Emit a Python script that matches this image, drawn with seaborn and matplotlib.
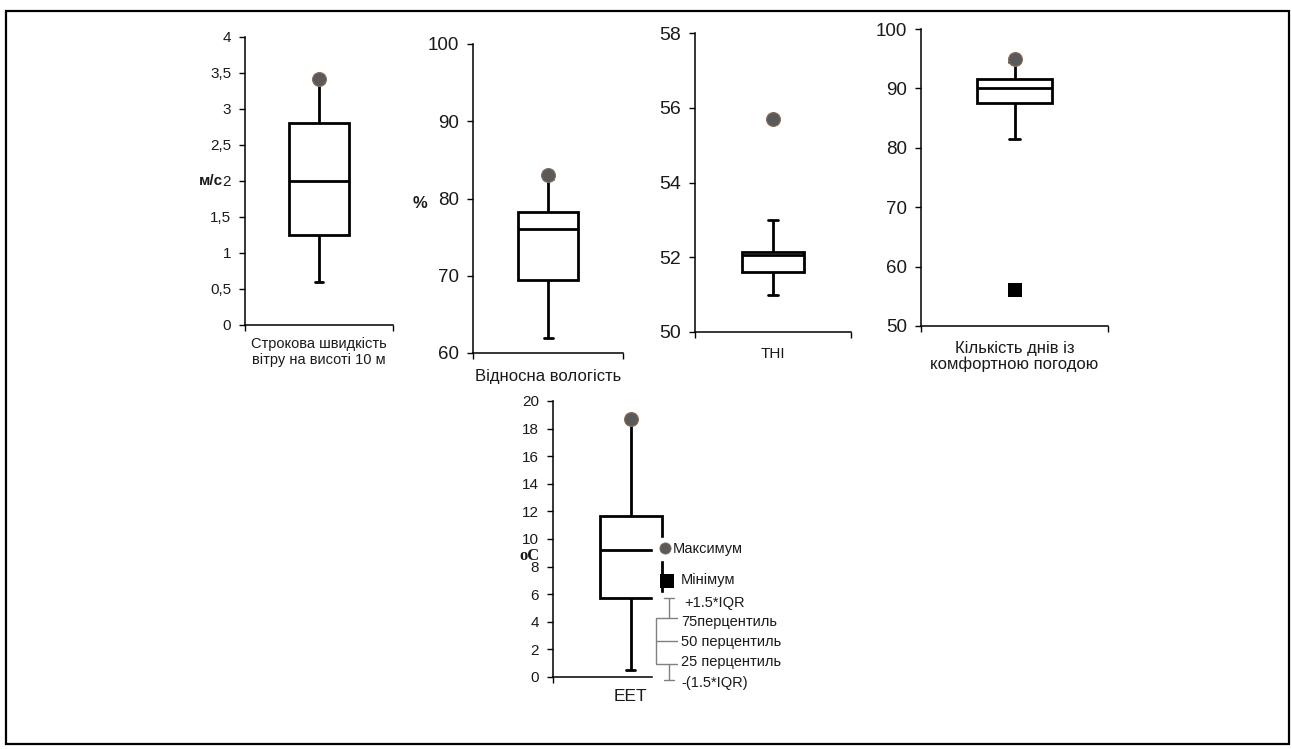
import numpy as np
import pandas as pd
import seaborn as sns
import matplotlib.pyplot as plt
from matplotlib.patches import Rectangle

# five-number summaries: lower whisker, 25%, median, 75%, upper whisker
wind_box = [0.6, 1.25, 2.0, 2.8, 3.4]
wind_max = [3.42]
humidity_box = [62.0, 69.5, 76.0, 78.2, 82.5]
humidity_max = [83.0]
thi_box = [51.0, 51.6, 52.05, 52.15, 53.0]
thi_max = [55.7]
comfort_box = [81.5, 87.5, 90.0, 91.5, 94.5]
comfort_max = [95.0]
comfort_min = [56.0]
eet_box = [0.5, 5.7, 9.2, 11.7, 18.5]
eet_max = [18.7]

wind_ticks = [0, 0.5, 1, 1.5, 2, 2.5, 3, 3.5, 4]
wind_ticklabels = ["0", "0,5", "1", "1,5", "2", "2,5", "3", "3,5", "4"]
humidity_ticks = [60, 70, 80, 90, 100]
thi_ticks = [50, 52, 54, 56, 58]
comfort_ticks = [50, 60, 70, 80, 90, 100]
eet_ticks = [0, 2, 4, 6, 8, 10, 12, 14, 16, 18, 20]

legend_box = [10, 26, 49, 72, 92]
legend_labels = ["+1.5*IQR", "75перцентиль", "50 перцентиль", "25 перцентиль", "-(1.5*IQR)"]

sns.set_style("white")
plt.rcParams["font.family"] = ["Liberation Sans", "DejaVu Sans"]

W, H = 1292, 749
fig = plt.figure(figsize=(W / 100, H / 100), dpi=100)


def px_rect(left, top, right, bottom):
    return [left / W, 1 - bottom / H, (right - left) / W, (bottom - top) / H]


DOT_FACE = "#5a5a5a"
DOT_EDGE = "#8a6f5c"
TXT = "#1a1a1a"


def draw_panel(rect, box, ticks, ticklabels, xlabel, fs, lfs, labelpad, lsp=1.1,
               vmax=None, vmin=None, ylabel=None, ylabel_pos=None, ylabel_kw=None):
    ax = fig.add_axes(px_rect(*rect))
    sns.boxplot(y=box, ax=ax, whis=(0, 100), width=0.4, color="white",
                linecolor="black", linewidth=2, showfliers=False, capwidths=0.06)
    if vmax is not None:
        sns.scatterplot(x=[0] * len(vmax), y=vmax, ax=ax, s=100, color=DOT_FACE,
                        edgecolor=DOT_EDGE, linewidth=0.8, zorder=4)
    if vmin is not None:
        sns.scatterplot(x=[0] * len(vmin), y=vmin, ax=ax, s=100, marker="s",
                        color="black", edgecolor="black", linewidth=0, zorder=4)
    ax.set_xlim(-0.5, 0.5)
    ax.set_ylim(ticks[0], ticks[-1])
    ax.set_yticks(ticks)
    ax.set_yticklabels(ticklabels if ticklabels else [str(t) for t in ticks])
    ax.set_xticks([-0.5, 0.5])
    ax.set_xticklabels([])
    ax.tick_params(axis="both", direction="out", length=4, width=1, color="black",
                   labelcolor=TXT, left=True, bottom=True)
    ax.tick_params(axis="y", labelsize=fs, pad=6)
    sns.despine(ax=ax)
    for s in ["left", "bottom"]:
        ax.spines[s].set_color("black")
        ax.spines[s].set_linewidth(1.1)
    ax.set_xlabel(xlabel, fontsize=lfs, color=TXT, labelpad=labelpad, linespacing=lsp)
    if ylabel:
        ax.set_ylabel(ylabel, rotation=0, ha="right", va="center", color=TXT, **(ylabel_kw or {}))
        ax.yaxis.set_label_coords(*ylabel_pos)
    else:
        ax.set_ylabel("")
    return ax


draw_panel((245, 37, 393, 325), wind_box, wind_ticks, wind_ticklabels,
           "Строкова швидкість\nвітру на висоті 10 м", 11, 10.5, 1, lsp=1.2,
           vmax=wind_max, ylabel="м/с", ylabel_pos=(-0.15, 0.5),
           ylabel_kw=dict(fontsize=11, fontweight="bold"))
draw_panel((473, 44, 623, 353), humidity_box, humidity_ticks, None,
           "Відносна вологість", 13.5, 12, 4,
           vmax=humidity_max, ylabel="%", ylabel_pos=(-0.305, 0.485),
           ylabel_kw=dict(fontsize=12, fontweight="bold"))
draw_panel((695, 33, 851, 332), thi_box, thi_ticks, None,
           "THI", 14, 11, 3, vmax=thi_max)
draw_panel((921, 29, 1108, 326), comfort_box, comfort_ticks, None,
           "Кількість днів із\nкомфортною погодою", 13.5, 12, 3, lsp=1.08,
           vmax=comfort_max, vmin=comfort_min)
ax5 = draw_panel((553, 401, 708, 677), eet_box, eet_ticks, None,
                 "EET", 11, 12.5, 1, vmax=eet_max, ylabel="oC",
                 ylabel_pos=(-0.085, 0.44),
                 ylabel_kw=dict(fontsize=12, fontweight="bold",
                                family=["Liberation Serif", "DejaVu Serif"]))

# legend (drawn over the EET panel)
lg = fig.add_axes(px_rect(640, 530, 780, 700))
lg.set_xlim(640, 780)
lg.set_ylim(700, 530)
lg.axis("off")
lg.patch.set_alpha(0)
lg.add_patch(Rectangle((653, 538), 110, 22, color="white", zorder=1))
lg.add_patch(Rectangle((653, 593), 120, 100, color="white", zorder=1))
lg.scatter([665], [548], s=65, color=DOT_FACE, edgecolor=DOT_EDGE, linewidth=0.6, zorder=3)
lg.text(673, 549, "Максимум", fontsize=10.5, color=TXT, va="center", ha="left", zorder=3)
lg.scatter([667], [581], s=110, marker="s", color="black", linewidth=0, zorder=3)
lg.text(681, 580, "Мінімум", fontsize=10.5, color=TXT, va="center", ha="left", zorder=3)

lb = fig.add_axes(px_rect(639, 590, 699, 690))
sns.boxplot(y=legend_box, ax=lb, whis=(0, 100), width=0.45, color="white",
            linecolor="#808080", linewidth=1, showfliers=False, capwidths=0.18)
lb.set_xlim(-0.5, 0.5)
lb.set_ylim(0, 100)
lb.axis("off")
lb.patch.set_alpha(0)

lt = fig.add_axes(px_rect(640, 590, 780, 700))
lt.set_xlim(640, 780)
lt.set_ylim(700, 590)
lt.axis("off")
lt.patch.set_alpha(0)
label_x = [684, 681, 681, 681, 681]
label_y = [603, 622, 642, 662, 683]
for x, y, t in zip(label_x, label_y, legend_labels):
    lt.text(x, y, t, fontsize=10.5, color=TXT, va="center", ha="left",
            bbox=dict(facecolor="white", edgecolor="none", pad=2.5))

# outer frame
fig.add_artist(Rectangle((6 / W, 1 - 744 / H), 1283 / W, 733 / H, transform=fig.transFigure,
                         fill=False, edgecolor="black", linewidth=1.6))

fig.savefig("out.png", dpi=100)
